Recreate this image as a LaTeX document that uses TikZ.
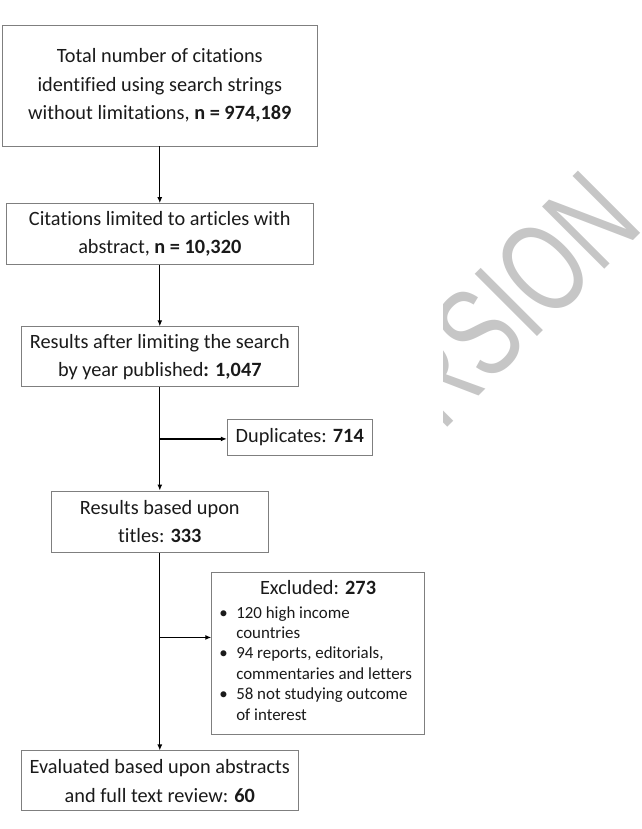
\documentclass[tikz,border=0pt]{standalone}
\usepackage{fontspec}
\setmainfont{Carlito}[Ligatures=NoCommon]
\newfontfamily\wmfamily{Liberation Sans}
\usepackage{graphicx}
\usetikzlibrary{arrows.meta, positioning, calc}

\definecolor{boxline}{HTML}{7F7F7F}
\definecolor{inktxt}{HTML}{1A1A1A}
\definecolor{wmgray}{HTML}{C6C6C6}

\newcommand{\boxfont}{\fontsize{20.3}{28.3}\selectfont}
\newcommand{\listfont}{\fontsize{16.9}{20.4}\selectfont}
\newcommand{\exbul}{\makebox[17pt][c]{\textbullet}\hspace*{4.1pt}}
\newcommand{\exind}{\hspace*{21.1pt}}

\begin{document}
\begin{tikzpicture}[
    x=1pt, y=1pt,
    box/.style={rectangle, draw=boxline, line width=0.9pt, inner sep=0pt,
                font=\boxfont, text=inktxt, align=center, fill=white},
    arrow/.style={-{Latex[length=6pt, width=5pt]}, line width=1.2pt, black},
    wmark/.style={text=wmgray, inner sep=0pt,
                  font=\wmfamily\fontsize{128}{128}\selectfont}
]
\useasboundingbox (0,0) rectangle (641,-829);

%% ── Watermark ───────────────────────────────────────────────────────────────
\begin{scope}
    \clip (443,0) rectangle (641,-829);
    \node[wmark, rotate=45] (wm) at (470,-342) {\scalebox{0.71}[1]{VERSION}};
\end{scope}

%% ── Main flow ───────────────────────────────────────────────────────────────
\node[box, minimum width=315pt, minimum height=121pt] (tot) at (159.8,-85.5)
      {Total number of citations\\identified using search strings\\without limitations, \textbf{n = 974,189}};
\node[box, below=56.7pt of tot, minimum width=306.6pt, minimum height=60.6pt] (lim)
      {Citations limited to articles with\\abstract, \textbf{n = 10,320}};
\node[box, below=61.7pt of lim, minimum width=277.3pt, minimum height=60pt] (year)
      {Results after limiting the search\\by year published\textbf{: 1,047}};
\node[box, below=103.3pt of year, minimum width=217.6pt, minimum height=61.7pt] (tit)
      {Results based upon\\titles: \textbf{333}};
\node[box, below=197.3pt of tit, minimum width=277.6pt, minimum height=60pt] (eval)
      {Evaluated based upon abstracts\\and full text review: \textbf{60}};

\draw[arrow] (tot)  -- (lim);
\draw[arrow] (lim)  -- (year);
\draw[arrow] (year) -- (tit);
\draw[arrow] (tit)  -- (eval);

%% ── Exclusions ──────────────────────────────────────────────────────────────
\coordinate (j1) at ($(year.south)!0.5!(tit.north)$);
\coordinate (j2) at ($(tit.south)+(0,-84.3)$);

\node[box, right=67pt of j1, yshift=1.5pt, minimum width=145pt, minimum height=36pt] (dup)
      {Duplicates: \textbf{714}};
\node[box, right=51.5pt of j2, yshift=-15.7pt, minimum width=212.6pt, minimum height=162pt] (excl)
      {Excluded: \textbf{273}\\[-4.5pt]
       {\listfont\begin{tabular}[t]{@{}l@{\hspace{9pt}}}
        \exbul 120 high income\\
        \exind countries\\
        \exbul 94 reports, editorials,\\
        \exind commentaries and letters\\
        \exbul 58 not studying outcome\\
        \exind of interest
       \end{tabular}}};

\draw[arrow] (j1) -- (j1 -| dup.west);
\draw[arrow] (j2) -- (j2 -| excl.west);

\end{tikzpicture}
\end{document}
